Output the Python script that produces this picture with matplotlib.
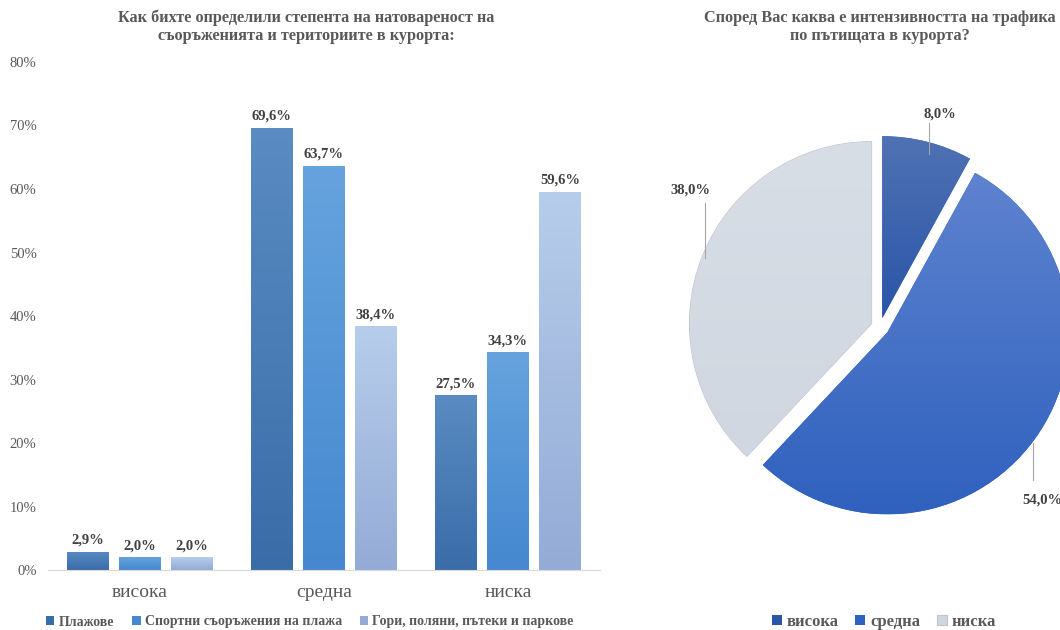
import numpy as np
import matplotlib.pyplot as plt
from matplotlib.colors import LinearSegmentedColormap

# --- data ---
categories = ['висока', 'средна', 'ниска']
series_names = ['Плажове', 'Спортни съоръжения на плажа', 'Гори, поляни, пътеки и паркове']
plaji = [2.9, 69.6, 27.5]
sport = [2.0, 63.7, 34.3]
gori = [2.0, 38.4, 59.6]

pie_labels = ['висока', 'средна', 'ниска']
pie_values = [8.0, 54.0, 38.0]

bar_title = 'Как бихте определили степента на натовареност на\nсъоръженията и териториите в курорта:'
pie_title = 'Според Вас каква е интензивността на трафика\nпо пътищата в курорта?'

plt.rcParams['font.family'] = ['Liberation Serif', 'DejaVu Serif']
txt_gray = '#595959'
lbl_dark = '#404040'

bar_cols = [('#5A8BC2', '#3A6DA8'), ('#66A3DE', '#4588CF'), ('#B6CDEB', '#94ABD6')]
pie_cols = [('#5072B4', '#2A55A8'), ('#5E83CF', '#2F61BE'), ('#D8DEE6', '#D0D7E0')]


def grad_fill(ax, patch, c_top, c_bot, clip=False):
    cmap = LinearSegmentedColormap.from_list('g', [c_bot, c_top])
    g = np.linspace(0, 1, 128).reshape(-1, 1)
    bb = patch.get_path().get_extents(patch.get_patch_transform())
    if clip:
        bb = patch.get_path().get_extents(patch.get_transform() - ax.transData)
    im = ax.imshow(g, cmap=cmap, origin='lower', aspect='auto',
                   extent=[bb.x0, bb.x1, bb.y0, bb.y1], zorder=patch.get_zorder() + 0.1)
    im.set_clip_path(patch)
    return im


fig = plt.figure(figsize=(10.6, 6.3), dpi=100)

# --- bar chart ---
ax = fig.add_axes([0.045, 0.0952, 0.521, 0.8064])
x = np.arange(len(categories))
w = 0.228
step = 0.283
handles = []
for i, vals in enumerate([plaji, sport, gori]):
    bars = ax.bar(x + (i - 1) * step, np.array(vals) / 100, w,
                  color=bar_cols[i][1], label=series_names[i], zorder=2)
    handles.append(bars)
    for b, v in zip(bars, vals):
        grad_fill(ax, b, bar_cols[i][0], bar_cols[i][1])
        ax.text(b.get_x() + b.get_width() / 2, b.get_height() + 0.008,
                ('%.1f%%' % v).replace('.', ','), ha='center', va='bottom',
                fontsize=10.5, fontweight='bold', color=lbl_dark)

ax.set_xlim(-0.5, 2.5)
ax.set_ylim(0, 0.8)
ax.set_yticks(np.arange(0, 0.81, 0.1))
ax.set_yticklabels(['%d%%' % round(t * 100) for t in np.arange(0, 0.81, 0.1)])
ax.set_xticks(x)
ax.set_xticklabels(categories, fontsize=14)
ax.tick_params(length=0, colors=txt_gray, labelsize=10.5)
ax.tick_params(axis='x', labelsize=14, pad=10)
ax.tick_params(axis='y', pad=8)
for s in ['top', 'right', 'left']:
    ax.spines[s].set_visible(False)
ax.spines['bottom'].set_color('#D9D9D9')
fig.text(306 / 1060, 1 - 27 / 630, bar_title, ha='center', va='center', fontsize=11.7,
         fontweight='bold', color=txt_gray, linespacing=1.2)
leg = fig.legend(handles=handles, loc='center', bbox_to_anchor=(310 / 1060, 1 - 622 / 630), ncol=3,
                 frameon=False, handlelength=0.6, handleheight=0.6,
                 handletextpad=0.3, columnspacing=1.3, prop={'weight': 'bold', 'size': 10})
for t in leg.get_texts():
    t.set_color(txt_gray)

# --- pie chart ---
r_px = 182
lim = 1.35
side = 2 * lim * r_px
cx, cy = 880, 327
pax = fig.add_axes([(cx - side / 2) / 1060, (630 - cy - side / 2) / 630, side / 1060, side / 630])
wedges, _ = pax.pie(pie_values, startangle=90, counterclock=False, radius=1,
                    explode=[0.05, 0.05, 0.05], colors=[c[1] for c in pie_cols],
                    wedgeprops=dict(linewidth=0))
pax.axis('off')
for wd, c in zip(wedges, pie_cols):
    grad_fill(pax, wd, c[0], c[1], clip=True)
    wd.set_clip_on(False)
wedges[2].set_edgecolor('#BFC5CD')
wedges[2].set_linewidth(0.8)
pax.set_xlim(-lim, lim)
pax.set_ylim(-lim, lim)

# label placements (pie data coords) and leader lines
lab_pos = [(0.33, 1.17), (0.89, -0.95), (-1.04, 0.75)]
lead = [((0.27, 1.12), (0.27, 0.95)), ((0.84, -0.84), (0.84, -0.64)), ((-0.96, 0.68), (-0.96, 0.38))]
for wd, v, p, ln in zip(wedges, pie_values, lab_pos, lead):
    pax.text(p[0], p[1], ('%.1f%%' % v).replace('.', ','), ha='center', va='center',
             fontsize=10.5, fontweight='bold', color=lbl_dark, clip_on=False)
    pax.plot([ln[0][0], ln[1][0]], [ln[0][1], ln[1][1]], color='#A6A6A6', lw=0.8,
             clip_on=False)

fig.text(880 / 1060, 1 - 27 / 630, pie_title, ha='center', va='center', fontsize=11.7,
         fontweight='bold', color=txt_gray, linespacing=1.2)
fig.legend(handles=wedges, labels=pie_labels, loc='center', bbox_to_anchor=(884 / 1060, 1 - 622 / 630),
           ncol=3, frameon=False, handlelength=0.6, handleheight=0.6, handletextpad=0.3,
           columnspacing=1.0, prop={'weight': 'bold', 'size': 12}, labelcolor=txt_gray)

fig.savefig('out.png', dpi=100)
